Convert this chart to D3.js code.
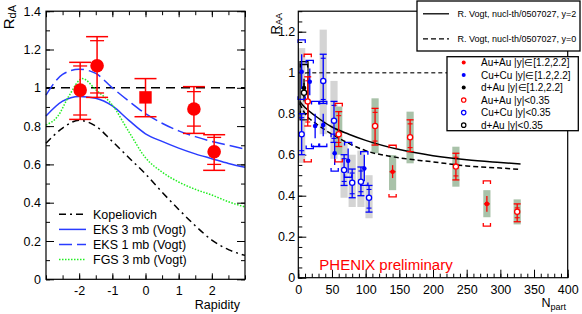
<!DOCTYPE html>
<html><head><meta charset="utf-8">
<script src="https://cdn.jsdelivr.net/npm/d3@7"></script>
<style>
body{margin:0;background:#fff}
svg{display:block}
text{font-family:"Liberation Sans",Arial,Helvetica,sans-serif}
</style>
</head><body>
<svg id="chart" width="582" height="314"></svg>
<script>
// ================= DATA =================
// Left panel: R_dA vs rapidity
const rapidityGrid = [-3,-2.5,-2,-1.5,-1,-0.5,0,0.5,1,1.5,2,2.5,3];
const kopeliovich  = [0.71,0.79,0.83,0.80,0.72,0.635,0.55,0.455,0.365,0.28,0.205,0.155,0.125];
const eks3mb       = [0.853,0.93,0.955,0.945,0.905,0.83,0.76,0.72,0.685,0.655,0.63,0.605,0.585];
const eks1mb       = [0.962,1.07,1.097,1.075,1.0,0.93,0.865,0.815,0.775,0.745,0.72,0.70,0.68];
const fgsRapidity  = [-3,-2.65,-2.3,-1.9,-1.5,-1,-0.5,0,0.5,1,1.5,2,2.5,3];
const fgs3mb       = [0.806,0.85,0.96,1.048,0.99,0.91,0.77,0.635,0.56,0.508,0.47,0.44,0.405,0.378];

const rdaRapidity  = [-1.97,-1.46,0,1.46,2.07];
const rdaValue     = [0.988,1.115,0.95,0.889,0.666];
const rdaErrLo     = [0.835,0.95,0.849,0.762,0.569];
const rdaErrHi     = [1.133,1.267,1.048,1.006,0.755];
const rdaSysLo     = [0.858,0.973,null,0.80,0.60];
const rdaSysHi     = [1.114,1.246,null,0.98,0.741];
const rdaMarker    = ["circle","circle","square","circle","circle"];

const leftLegendLabels = ["Kopeliovich","EKS 3 mb (Vogt)","EKS 1 mb (Vogt)","FGS 3 mb (Vogt)"];
const leftXTicks       = [-2,-1,0,1,2];
const leftXTickLabels  = ["-2","-1","0","1","2"];
const leftYTicks       = [0,0.2,0.4,0.6,0.8,1,1.2,1.4];
const leftYTickLabels  = ["0","0.2","0.4","0.6","0.8","1","1.2","1.4"];

// Right panel: R_AA vs Npart
const vogtNpart = [2,10,25,50,75,100,150,200,250,300,330];
const vogtY2    = [0.86,0.83,0.79,0.735,0.70,0.67,0.625,0.595,0.575,0.562,0.555];
const vogtY0    = [0.85,0.80,0.755,0.70,0.655,0.62,0.585,0.565,0.545,0.535,0.528];
const rightCurveLabels = ["R. Vogt, nucl-th/0507027, y=2","R. Vogt, nucl-th/0507027, y=0"];

// Au+Au |y|<0.35 (open red)
const auMidNpart = [14,60,114,166,234,325];
const auMidValue = [0.86,0.70,0.74,0.685,0.542,0.322];
const auMidErrLo = [0.74,0.64,0.647,0.615,0.477,0.273];
const auMidErrHi = [0.98,0.81,0.826,0.77,0.607,0.36];
const auMidBoxLo = [null,0.60,0.607,0.558,0.444,0.26];
const auMidBoxHi = [null,0.835,0.875,0.81,0.639,0.382];
const auMidBrLo  = [0.565,0.565,null,null,null,null];
const auMidBrHi  = [1.09,0.85,null,null,null,null];
// Au+Au |y| in [1.2,2.2] (filled red)
const auFwdNpart = [140,280];
const auFwdValue = [0.517,0.36];
const auFwdErrLo = [0.486,0.322];
const auFwdErrHi = [0.549,0.398];
const auFwdBoxLo = [0.427,0.295];
const auFwdBoxHi = [0.598,0.427];
const auFwdBrLo  = [0.394,0.252];
const auFwdBrHi  = [0.646,0.472];
// Cu+Cu |y|<0.35 (open blue)
const cuMidNpart = [5,37,53,68,80,93,105];
const cuMidValue = [0.70,0.96,0.766,0.525,0.463,0.468,0.39];
const cuMidErrLo = [0.60,0.85,0.66,0.45,0.39,0.40,0.32];
const cuMidErrHi = [0.80,1.09,0.86,0.60,0.53,0.54,0.45];
const cuMidBoxLo = [0.56,0.70,0.58,0.39,0.345,0.345,0.29];
const cuMidBoxHi = [1.12,1.21,0.96,0.66,0.60,0.62,0.50];
// Cu+Cu |y| in [1.2,2.2] (filled blue)
const cuFwdNpart = [5,17,25,37,54,74,98];
const cuFwdValue = [1.005,0.956,0.74,0.745,0.607,0.57,0.533];
const cuFwdErrLo = [0.92,0.89,0.68,0.69,0.55,0.51,0.47];
const cuFwdErrHi = [1.09,1.02,0.80,0.80,0.66,0.63,0.60];
const cuFwdBrLo  = [0.87,0.63,0.64,0.64,0.52,0.49,0.45];
const cuFwdBrHi  = [1.16,1.06,0.86,0.86,0.70,0.66,0.615];
// d+Au
const dauMidNpart = [8.5], dauMidValue = [0.902], dauMidErrLo = [0.86], dauMidErrHi = [0.95];
const dauMidBoxLo = [0.77], dauMidBoxHi = [1.054];
const dauFwdNpart = [8.5], dauFwdValue = [0.925], dauFwdErrLo = [0.88], dauFwdErrHi = [0.97];
const dauFwdBrLo  = [0.80], dauFwdBrHi = [1.04];

const seriesLabels = ["Au+Au |y|\u2208[1.2,2.2]","Cu+Cu |y|\u2208[1.2,2.2]","d+Au |y|\u2208[1.2,2.2]",
                      "Au+Au |y|<0.35","Cu+Cu |y|<0.35","d+Au |y|<0.35"];
const rightXTicks = [0,50,100,150,200,250,300,350,400];
const rightXTickLabels = ["0","50","100","150","200","250","300","350","400"];
const rightYTicks = [0,0.2,0.4,0.6,0.8,1,1.2];
const rightYTickLabels = ["0","0.2","0.4","0.6","0.8","1","1.2"];

// ================= DRAW =================
const svg = d3.select("#chart");
const RED = "#ff0000", BLUE = "#0000ff", BLUEL = "#2a3cff", GREEN = "#22ee22";
const FONT = "'Liberation Sans',Arial,Helvetica,sans-serif";

function styleAxis(g, size){
  g.select(".domain").remove();
  g.attr("font-family", FONT).attr("font-size", size);
  g.selectAll("line").attr("stroke","#000").attr("stroke-width",1);
  g.selectAll("text").attr("fill","#000");
}

// ---------- LEFT PANEL ----------
const xL = d3.scaleLinear().domain([-3,3]).range([46,245]);
const yL = d3.scaleLinear().domain([0,1.4]).range([279.3,11.2]);
const L = svg.append("g");

const minorX = d3.range(-3,3.01,0.5), minorY = d3.range(0,1.401,0.1);
L.append("g").attr("transform",`translate(${xL.range()[0]},0)`)
  .call(d3.axisLeft(yL).tickValues(leftYTicks).tickFormat((d,i)=>leftYTickLabels[i]).tickSizeInner(-8).tickSizeOuter(0).tickPadding(5))
  .call(g=>styleAxis(g,12.5));
L.append("g").attr("transform",`translate(${xL.range()[0]},0)`)
  .call(d3.axisLeft(yL).tickValues(minorY).tickFormat("").tickSizeInner(-4).tickSizeOuter(0)).call(g=>styleAxis(g,12));
L.append("g").attr("transform",`translate(${xL.range()[1]},0)`)
  .call(d3.axisRight(yL).tickValues(leftYTicks).tickFormat("").tickSizeInner(-8).tickSizeOuter(0)).call(g=>styleAxis(g,12));
L.append("g").attr("transform",`translate(${xL.range()[1]},0)`)
  .call(d3.axisRight(yL).tickValues(minorY).tickFormat("").tickSizeInner(-4).tickSizeOuter(0)).call(g=>styleAxis(g,12));
L.append("g").attr("transform",`translate(0,${yL.range()[0]})`)
  .call(d3.axisBottom(xL).tickValues(leftXTicks).tickFormat((d,i)=>leftXTickLabels[i]).tickSizeInner(-6).tickSizeOuter(0).tickPadding(7))
  .call(g=>styleAxis(g,12.5));
L.append("g").attr("transform",`translate(0,${yL.range()[0]})`)
  .call(d3.axisBottom(xL).tickValues(minorX).tickFormat("").tickSizeInner(-4).tickSizeOuter(0)).call(g=>styleAxis(g,12));
L.append("g").attr("transform",`translate(0,${yL.range()[1]})`)
  .call(d3.axisTop(xL).tickValues(leftXTicks.concat([-3,3])).tickFormat("").tickSizeInner(-6).tickSizeOuter(0)).call(g=>styleAxis(g,12));
L.append("g").attr("transform",`translate(0,${yL.range()[1]})`)
  .call(d3.axisTop(xL).tickValues(minorX).tickFormat("").tickSizeInner(-4).tickSizeOuter(0)).call(g=>styleAxis(g,12));

L.append("line").attr("x1",xL(-3)).attr("x2",xL(3)).attr("y1",yL(1)).attr("y2",yL(1))
  .attr("stroke","#000").attr("stroke-width",1.5).attr("stroke-dasharray","9,6");

const lineL = (xs) => d3.line().x((d,i)=>xL(xs[i])).y(d=>yL(d)).curve(d3.curveMonotoneX);
const leftCurves = [
  {xs:rapidityGrid, ys:kopeliovich, color:"#000", dash:"7,4,2,4", w:1.5},
  {xs:rapidityGrid, ys:eks3mb, color:BLUEL, dash:null, w:1.5},
  {xs:rapidityGrid, ys:eks1mb, color:BLUEL, dash:"13,5", w:1.5},
  {xs:fgsRapidity, ys:fgs3mb, color:GREEN, dash:"1.5,1.5", w:1.5}
];
leftCurves.forEach(c=>{
  L.append("path").attr("d", lineL(c.xs)(c.ys)).attr("fill","none")
   .attr("stroke",c.color).attr("stroke-width",c.w).attr("stroke-dasharray",c.dash);
});

rdaRapidity.forEach((r,i)=>{
  const x = xL(r);
  L.append("line").attr("x1",x).attr("x2",x).attr("y1",yL(rdaErrLo[i])).attr("y2",yL(rdaErrHi[i]))
    .attr("stroke",RED).attr("stroke-width",1.5);
  [rdaErrLo[i],rdaErrHi[i]].forEach(v=>{
    L.append("line").attr("x1",x-11).attr("x2",x+11).attr("y1",yL(v)).attr("y2",yL(v))
      .attr("stroke",RED).attr("stroke-width",1.5);
  });
  [rdaSysLo[i],rdaSysHi[i]].forEach(v=>{
    if(v==null) return;
    L.append("line").attr("x1",x-7).attr("x2",x+7).attr("y1",yL(v)).attr("y2",yL(v))
      .attr("stroke",RED).attr("stroke-width",1.3);
  });
  if(rdaMarker[i]==="square"){
    L.append("rect").attr("x",x-6.2).attr("y",yL(rdaValue[i])-6.2).attr("width",12.4).attr("height",12.4).attr("fill",RED);
  } else {
    L.append("circle").attr("cx",x).attr("cy",yL(rdaValue[i])).attr("r",6.8).attr("fill",RED);
  }
});

L.append("rect").attr("x",xL.range()[0]).attr("y",yL.range()[1]).attr("width",xL.range()[1]-xL.range()[0])
  .attr("height",yL.range()[0]-yL.range()[1]).attr("fill","none").attr("stroke","#000").attr("stroke-width",1.2);

leftCurves.forEach((c,i)=>{
  const y = 214.3 + i*15.1;
  L.append("line").attr("x1",59).attr("x2",86).attr("y1",y).attr("y2",y)
    .attr("stroke",c.color).attr("stroke-width",1.5).attr("stroke-dasharray",c.dash);
  L.append("text").attr("x",93).attr("y",y+4.4).attr("font-size",12.5).text(leftLegendLabels[i]);
});

const rdaT = L.append("text").attr("transform","translate(14,5) rotate(-90)").attr("text-anchor","end").attr("font-size",15);
rdaT.append("tspan").text("R");
rdaT.append("tspan").attr("font-size",11).attr("dy",2).text("dA");
L.append("text").attr("x",240).attr("y",309).attr("text-anchor","end").attr("font-size",12.5).text("Rapidity");

// ---------- RIGHT PANEL ----------
const xR = d3.scaleLinear().domain([0,400]).range([298.3,567.7]);
const yR = d3.scaleLinear().domain([0,1.3]).range([277.7,11.2]);
const R = svg.append("g");

R.append("g").attr("transform",`translate(${xR.range()[0]},0)`)
  .call(d3.axisLeft(yR).tickValues(rightYTicks).tickFormat((d,i)=>rightYTickLabels[i]).tickSizeInner(-8).tickSizeOuter(0).tickPadding(3))
  .call(g=>styleAxis(g,12.5));
R.append("g").attr("transform",`translate(${xR.range()[0]},0)`)
  .call(d3.axisLeft(yR).tickValues(d3.range(0,1.301,0.05)).tickFormat("").tickSizeInner(-4).tickSizeOuter(0)).call(g=>styleAxis(g,12));
R.append("g").attr("transform",`translate(0,${yR.range()[0]})`)
  .call(d3.axisBottom(xR).tickValues(rightXTicks).tickFormat((d,i)=>rightXTickLabels[i]).tickSizeInner(-8).tickSizeOuter(0).tickPadding(7.5))
  .call(g=>styleAxis(g,12.5));
R.append("g").attr("transform",`translate(0,${yR.range()[0]})`)
  .call(d3.axisBottom(xR).tickValues(d3.range(0,401,10)).tickFormat("").tickSizeInner(-4).tickSizeOuter(0)).call(g=>styleAxis(g,12));

const BOXW = 3.6;
function box(g, n, lo, hi, fill){
  if(lo==null) return;
  g.append("rect").attr("x",xR(n)-BOXW).attr("y",yR(hi)).attr("width",2*BOXW).attr("height",yR(lo)-yR(hi)).attr("fill",fill);
}
function errBar(g, n, lo, hi, color, caps){
  const x = xR(n);
  g.append("line").attr("x1",x).attr("x2",x).attr("y1",yR(lo)).attr("y2",yR(hi)).attr("stroke",color).attr("stroke-width",1.3);
  if(caps){
    [[lo,-1],[hi,1]].forEach(([v,s])=>{
      g.append("line").attr("x1",x-3.5).attr("x2",x+3.5).attr("y1",yR(v)).attr("y2",yR(v)).attr("stroke",color).attr("stroke-width",1.3);
      g.append("line").attr("x1",x-2.5).attr("x2",x+2.5).attr("y1",yR(v)+s*4).attr("y2",yR(v)+s*4).attr("stroke",color).attr("stroke-width",1.1);
    });
  }
}
function brackets(g, n, lo, hi, color){
  const x = xR(n);
  if(hi!=null) g.append("path").attr("d",`M${x-3.6},${yR(hi)+3}V${yR(hi)}H${x+3.6}V${yR(hi)+3}`)
     .attr("fill","none").attr("stroke",color).attr("stroke-width",1.3);
  if(lo!=null) g.append("path").attr("d",`M${x-3.6},${yR(lo)-3}V${yR(lo)}H${x+3.6}V${yR(lo)-3}`)
     .attr("fill","none").attr("stroke",color).attr("stroke-width",1.3);
}

const GRAYBOX = "#d4d4d4", GREENBOX = "#a9c2a9";
cuMidNpart.forEach((n,i)=>box(R,n,cuMidBoxLo[i],cuMidBoxHi[i],GRAYBOX));
auMidNpart.forEach((n,i)=>box(R,n,auMidBoxLo[i],auMidBoxHi[i],GREENBOX));
auFwdNpart.forEach((n,i)=>box(R,n,auFwdBoxLo[i],auFwdBoxHi[i],GREENBOX));

R.append("line").attr("x1",xR(0)).attr("x2",xR(400)).attr("y1",yR(1)).attr("y2",yR(1))
  .attr("stroke","#444").attr("stroke-width",1.5).attr("stroke-dasharray","4,3");
const lineR = d3.line().x((d,i)=>xR(vogtNpart[i])).y(d=>yR(d)).curve(d3.curveMonotoneX);
R.append("path").attr("d",lineR(vogtY2)).attr("fill","none").attr("stroke","#000").attr("stroke-width",1.5);
R.append("path").attr("d",lineR(vogtY0)).attr("fill","none").attr("stroke","#000").attr("stroke-width",1.5).attr("stroke-dasharray","5,3");

dauMidNpart.forEach((n,i)=>{
  R.append("rect").attr("x",xR(n)-4).attr("y",yR(dauMidBoxHi[i])).attr("width",8).attr("height",yR(dauMidBoxLo[i])-yR(dauMidBoxHi[i]))
   .attr("fill","none").attr("stroke","#000").attr("stroke-width",1.2);
  errBar(R,n,dauMidErrLo[i],dauMidErrHi[i],"#000",false);
});
dauFwdNpart.forEach((n,i)=>{
  errBar(R,n,dauFwdErrLo[i],dauFwdErrHi[i],"#000",false);
  brackets(R,n,dauFwdBrLo[i],dauFwdBrHi[i],"#000");
});
cuMidNpart.forEach((n,i)=>errBar(R,n,cuMidErrLo[i],cuMidErrHi[i],BLUE,true));
cuFwdNpart.forEach((n,i)=>{errBar(R,n,cuFwdErrLo[i],cuFwdErrHi[i],BLUE,false); brackets(R,n,cuFwdBrLo[i],cuFwdBrHi[i],BLUE);});
auMidNpart.forEach((n,i)=>{errBar(R,n,auMidErrLo[i],auMidErrHi[i],RED,true); brackets(R,n,auMidBrLo[i],auMidBrHi[i],RED);});
auFwdNpart.forEach((n,i)=>{
  errBar(R,n,auFwdErrLo[i],auFwdErrHi[i],RED,false); brackets(R,n,auFwdBrLo[i],auFwdBrHi[i],RED);
  R.append("line").attr("x1",xR(n)-3).attr("x2",xR(n)+3).attr("y1",yR(auFwdValue[i])).attr("y2",yR(auFwdValue[i])).attr("stroke",RED).attr("stroke-width",1.3);
});
function filled(g,n,v,color){ g.append("circle").attr("cx",xR(n)).attr("cy",yR(v)).attr("r",2.3).attr("fill",color); }
function open(g,n,v,color){ g.append("circle").attr("cx",xR(n)).attr("cy",yR(v)).attr("r",2.6).attr("fill","#fff").attr("stroke",color).attr("stroke-width",1.3); }
cuFwdNpart.forEach((n,i)=>filled(R,n,cuFwdValue[i],BLUE));
cuMidNpart.forEach((n,i)=>open(R,n,cuMidValue[i],BLUE));
auFwdNpart.forEach((n,i)=>filled(R,n,auFwdValue[i],RED));
auMidNpart.forEach((n,i)=>open(R,n,auMidValue[i],RED));
dauFwdNpart.forEach((n,i)=>filled(R,n,dauFwdValue[i],"#000"));
dauMidNpart.forEach((n,i)=>open(R,n,dauMidValue[i],"#000"));

R.append("rect").attr("x",xR.range()[0]).attr("y",yR.range()[1]).attr("width",xR.range()[1]-xR.range()[0])
  .attr("height",yR.range()[0]-yR.range()[1]).attr("fill","none").attr("stroke","#000").attr("stroke-width",1.2);

R.append("text").attr("x",319.3).attr("y",269.5).attr("fill",RED).attr("font-size",15).text("PHENIX preliminary");

R.append("rect").attr("x",417).attr("y",1).attr("width",163).attr("height",50).attr("fill","#fff").attr("stroke","#000").attr("stroke-width",1.3);
[null,"5,3"].forEach((dash,i)=>{
  const y = 13.8 + i*25;
  R.append("line").attr("x1",423).attr("x2",449).attr("y1",y).attr("y2",y).attr("stroke","#000").attr("stroke-width",1.3).attr("stroke-dasharray",dash);
  R.append("text").attr("x",457.5).attr("y",y+3.2).attr("font-size",9).text(rightCurveLabels[i]);
});
R.append("rect").attr("x",447).attr("y",56.7).attr("width",131.3).attr("height",74).attr("fill","#fff").attr("stroke","#000").attr("stroke-width",1.3);
const legColors = [RED,BLUE,"#000",RED,BLUE,"#000"];
seriesLabels.forEach((lab,i)=>{
  const y = 62.4 + i*12.55;
  if(i<3) R.append("circle").attr("cx",463.7).attr("cy",y).attr("r",2).attr("fill",legColors[i]);
  else R.append("circle").attr("cx",463.7).attr("cy",y).attr("r",2.2).attr("fill","#fff").attr("stroke",legColors[i]).attr("stroke-width",1.2);
  R.append("text").attr("x",481).attr("y",y+3.6).attr("font-size",10).text(lab);
});

const raaT = R.append("text").attr("transform","translate(280,13) rotate(-90)").attr("text-anchor","end").attr("font-size",13);
raaT.append("tspan").text("R");
raaT.append("tspan").attr("font-size",9).attr("dy",2).text("AA");
const np = R.append("text").attr("x",566).attr("y",306.5).attr("text-anchor","end").attr("font-size",12.5);
np.append("tspan").text("N");
np.append("tspan").attr("font-size",9).attr("dy",3.5).text("part");
</script>
</body></html>
